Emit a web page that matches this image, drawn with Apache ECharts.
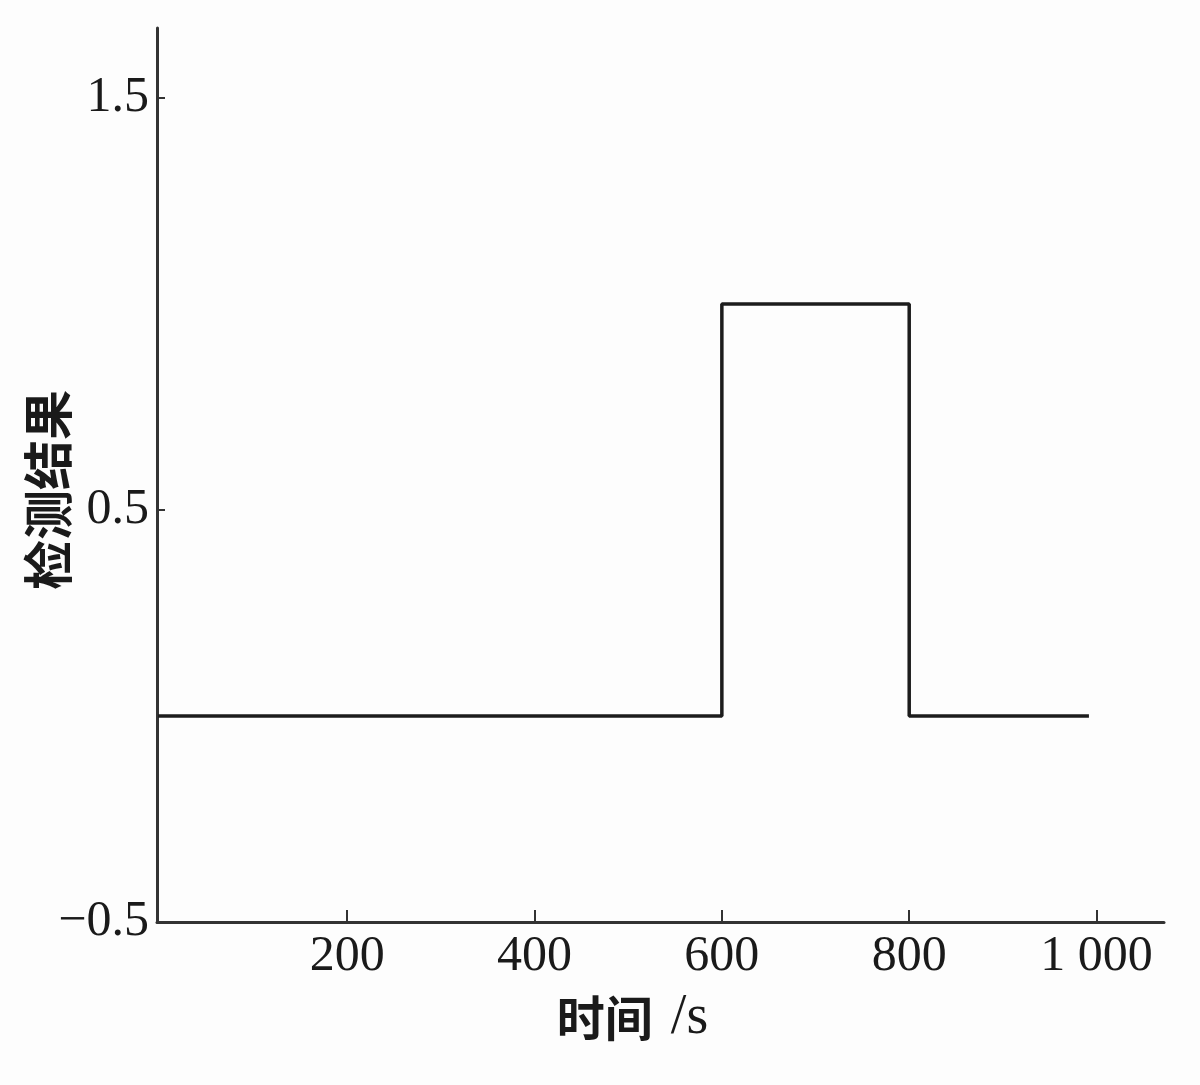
<!DOCTYPE html>
<html>
<head>
<meta charset="utf-8">
<script src="https://cdn.jsdelivr.net/npm/echarts@6/dist/echarts.min.js"></script>
<style>
html,body{margin:0;padding:0;background:#fdfdfd;}
#c{width:1200px;height:1085px;}
</style>
</head>
<body>
<div id="c"></div>
<script>
// Data
var timeValues = [0, 600, 600, 800, 800, 990];
var detectValues = [0, 0, 1, 1, 0, 0];
var xTickValues = [200, 400, 600, 800, 1000];
var yTickValues = [-0.5, 0.5, 1.5];
var xAxisNameMain = '时间';
var xAxisNameUnit = '/s';
var yAxisName = '检测结果';

var points = timeValues.map(function (t, i) { return [t, detectValues[i]]; });

function fmtX(v) {
  var s = String(v);
  if (v >= 1000) s = s.slice(0, s.length - 3) + ' ' + s.slice(-3);
  return s;
}
function fmtY(v) {
  return String(v).replace('-', '\u2212');
}

var serif = '"Liberation Serif", "DejaVu Serif", serif';
var cjk = '"Noto Sans CJK SC", sans-serif';
var chart = echarts.init(document.getElementById('c'), null, {renderer: 'canvas'});
chart.setOption({
  backgroundColor: '#fdfdfd',
  animation: false,
  grid: {left: 157, right: 36, top: 28, bottom: 163, containLabel: false, outerBoundsMode: 'none'},
  xAxis: {
    type: 'value',
    min: -3,
    max: 1072,
    name: '{a|' + xAxisNameMain + '}{b|' + xAxisNameUnit + '}',
    nameLocation: 'middle',
    nameGap: 68,
    nameMoveOverlap: false,
    nameTextStyle: {
      color: '#1a1a1a',
      padding: [0, 56, 0, 0],
      rich: {
        a: {fontFamily: cjk, fontSize: 48, fontWeight: 'bold', color: '#1a1a1a', padding: [0, 18, 0, 0]},
        b: {fontFamily: serif, fontSize: 56, color: '#1a1a1a'}
      }
    },
    axisLine: {onZero: false, lineStyle: {color: '#333', width: 3}},
    axisTick: {inside: true, length: 12, customValues: xTickValues, lineStyle: {color: '#333', width: 2}},
    axisLabel: {
      customValues: xTickValues,
      formatter: fmtX,
      fontFamily: serif,
      fontSize: 50,
      color: '#1a1a1a',
      margin: 10
    },
    splitLine: {show: false}
  },
  yAxis: {
    type: 'value',
    min: -0.5,
    max: 1.67,
    name: yAxisName,
    nameLocation: 'middle',
    nameGap: 84,
    nameMoveOverlap: false,
    nameTextStyle: {
      fontFamily: cjk,
      fontSize: 50,
      fontWeight: 'bold',
      color: '#1a1a1a',
      padding: [0, 0, 0, -30]
    },
    axisLine: {onZero: false, lineStyle: {color: '#333', width: 3}},
    axisTick: {inside: true, length: 8, customValues: yTickValues, lineStyle: {color: '#333', width: 2}},
    axisLabel: {
      customValues: yTickValues,
      formatter: fmtY,
      fontFamily: serif,
      fontSize: 50,
      color: '#1a1a1a',
      margin: 8
    },
    splitLine: {show: false}
  },
  series: [{
    type: 'line',
    data: points,
    showSymbol: false,
    lineStyle: {color: '#1c1c1c', width: 3.5, cap: 'square'},
    clip: false
  }]
});
</script>
</body>
</html>
